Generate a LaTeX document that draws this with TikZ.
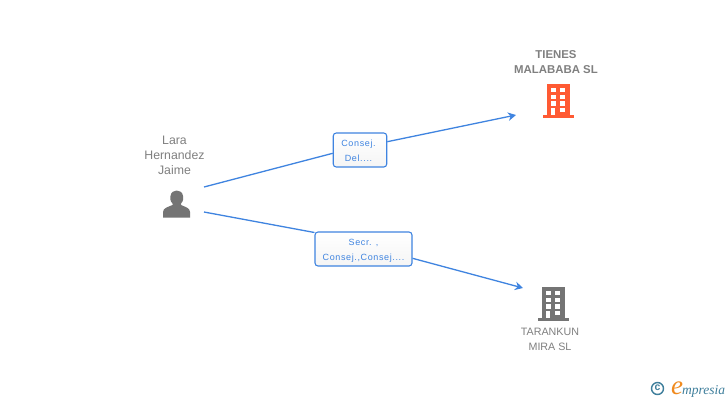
\documentclass[tikz,border=0pt]{standalone}
\usepackage{fontspec}
\setmainfont{Liberation Sans}
\newfontfamily\lblfont[LetterSpace=7]{Liberation Sans}
\newfontfamily\logofont{Liberation Serif}
\usetikzlibrary{arrows.meta}
\definecolor{linkblue}{HTML}{3F84E0}
\definecolor{txtgray}{HTML}{808080}
\definecolor{orgorange}{HTML}{FF5A33}
\definecolor{orggray}{HTML}{747474}
\definecolor{logoteal}{HTML}{3F7F9C}
\definecolor{logoorange}{HTML}{F08A1E}
\tikzset{
  x=1pt,y=-1pt,
  name text/.style={inner sep=0pt,align=center,text=txtgray,font=\fontsize{12.3}{15}\selectfont},
  org text/.style={inner sep=0pt,align=center,text=txtgray,font=\fontsize{10.7}{15.5}\selectfont},
  bold text/.style={inner sep=0pt,align=center,text=txtgray,font=\bfseries\fontsize{11.4}{15}\selectfont},
  rel box/.style={draw=linkblue,line width=1.1pt,rounded corners=3pt,inner sep=0pt,align=center,
    top color=white,bottom color=black!4,text=linkblue,font=\lblfont\fontsize{9}{15.5}\selectfont},
  link/.style={draw=linkblue,line width=1.3pt},
  link tip/.style={link,-{Stealth[length=8pt,width=8.5pt]}},
}
\newcommand{\building}[3]{% x, y (body top-left), colour
  \begin{scope}[shift={(#1,#2)}]
    \fill[#3] (0,0) rectangle (22.5,32);
    \fill[#3] (-4,30.5) rectangle (27,33.5);
    \foreach \r in {0,1,2}{
      \fill[white] (3.8,3.8+6.7*\r) rectangle (8.7,8.2+6.7*\r);
      \fill[white] (13.3,3.8+6.7*\r) rectangle (18.3,8.2+6.7*\r);
    }
    \fill[white] (3.8,24) rectangle (8.2,31);
    \fill[white] (13.3,24) rectangle (18.3,28.4);
  \end{scope}}
\begin{document}
\begin{tikzpicture}
\useasboundingbox (0,0) rectangle (728,400);
\fill[white] (0,0) rectangle (728,400);

% person
\node[name text] (personlabel) at (174.5,155.5) {Lara\\Hernandez\\Jaime};
\fill[orggray] (163,217.5) -- (163,212) .. controls (163,208) and (168,207) .. (172.5,205)
  -- (172.5,203.5) .. controls (170,201) and (170,198) .. (170.5,196)
  .. controls (171,192) and (174,190.5) .. (176.7,190.5)
  .. controls (179.5,190.5) and (182.5,192) .. (183,196)
  .. controls (183.5,198) and (183.5,201) .. (181,203.5)
  -- (181,205) .. controls (185.5,207) and (190,208) .. (190,212) -- (190,217.5) -- cycle;
\coordinate (pstart1) at (204,187);
\coordinate (pstart2) at (204,212);

% organisations
\building{547}{84}{orgorange}
\building{542}{287}{orggray}
\node[bold text] (tieneslabel) at (556,62.5) {TIENES\\MALABABA SL};
\node[org text] (taranlabel) at (550,339.5) {TARANKUN\\MIRA SL};
\coordinate (tienes) at (516,115);
\coordinate (taran) at (523,288);

% relation boxes
\node[rel box,minimum width=53.5pt,minimum height=34pt] (rel1) at (360,150) {\rule{0pt}{8pt}\hspace{-3pt}Consej.\\\hspace{-3pt}Del....};
\node[rel box,minimum width=97pt,minimum height=34pt] (rel2) at (363.5,249) {\rule{0pt}{10pt}Secr. ,\\Consej.,Consej....};

% connectors
\draw[link] (pstart1) -- (rel1.west |- 0,153.3);
\draw[link tip] (rel1.east |- 0,141.7) -- (tienes);
\draw[link] (pstart2) -- (rel2.west |- 0,232.5);
\draw[link tip] (rel2.east |- 0,258.3) -- (taran);

% logo
\draw[logoteal,line width=1.4pt] (657.5,388.5) circle (6);
\node[inner sep=0pt,text=logoteal,font=\bfseries\fontsize{10.5}{10}\selectfont] (copyr) at (657.5,388) {c};
\node[inner sep=0pt,anchor=base west,text=logoorange,font=\logofont\itshape\fontsize{27}{27}\selectfont] (logoe) at (671,394.5) {e};
\node[inner sep=0pt,anchor=base west,text=logoteal,font=\logofont\itshape\fontsize{13.5}{14}\selectfont] (logow) at (682,394) {mpresia};
\end{tikzpicture}
\end{document}
